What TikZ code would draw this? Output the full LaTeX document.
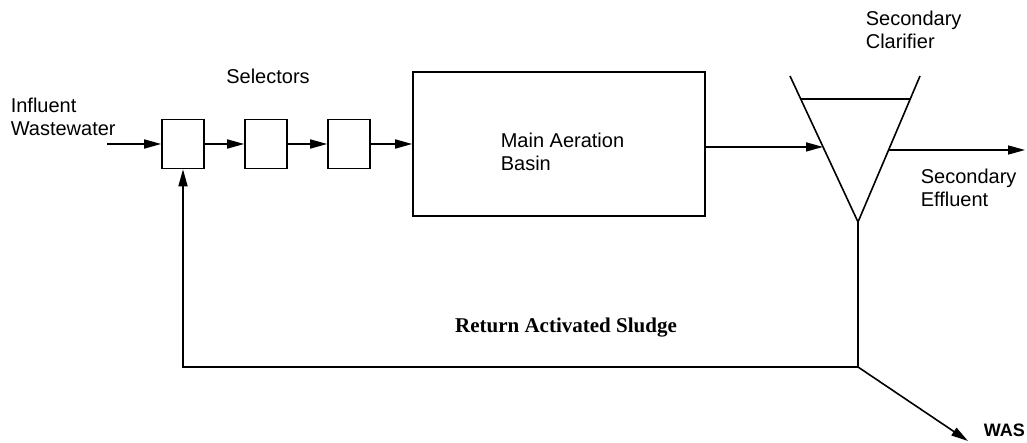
\documentclass[tikz,border=0pt]{standalone}
\usepackage{fontspec}
\setmainfont{Liberation Sans}
\newfontfamily\rasfont{Liberation Serif}
\usetikzlibrary{arrows.meta}

\begin{document}
\begin{tikzpicture}[x=1pt, y=-1pt, line width=1.6pt,
    flow/.style={-{Triangle[length=17pt, width=9pt]}},
    selector/.style={draw, minimum width=42pt, minimum height=49pt, inner sep=0pt},
    lbl/.style={font=\fontsize{20}{23}\selectfont, align=left, inner sep=0pt}]
    \useasboundingbox (0,0) rectangle (1027,443);

    % selectors and aeration basin
    \node[selector] (sel1) at (183,144) {};
    \node[selector] (sel2) at (266,144) {};
    \node[selector] (sel3) at (349,144) {};
    \node[draw, minimum width=292pt, minimum height=144pt, inner sep=0pt] (basin) at (559,144) {};
    \node[lbl, anchor=north west] (basintxt) at (500,132) {Main Aeration\\Basin};

    \node[lbl, anchor=north west] (influent) at (10,97) {Influent\\Wastewater};
    \node[lbl, anchor=north] (selectors) at (268,68) {Selectors};

    \coordinate (inflow) at (107,144);
    \draw[flow] (inflow) -- (sel1);
    \draw[flow] (sel1) -- (sel2);
    \draw[flow] (sel2) -- (sel3);
    \draw[flow] (sel3) -- (basin);

    % secondary clarifier
    \coordinate (cltop) at (790,76);
    \coordinate (crtop) at (920,76);
    \coordinate (apex) at (858,222);
    \draw (cltop) -- (apex) -- (crtop);
    \path (cltop) -- (apex) coordinate[pos=0.158] (wl) coordinate[pos=0.486] (cin);
    \path (crtop) -- (apex) coordinate[pos=0.158] (wr) coordinate[pos=0.507] (cout);
    \draw (wl) -- (wr);
    \node[lbl, anchor=north west] (clar) at (865,10) {Secondary\\Clarifier};

    \draw[flow] (basin.east |- cin) -- (cin);
    \coordinate (outflow) at (1025,150);
    \draw[flow] (cout) -- (outflow);
    \node[lbl, anchor=north west] (effluent) at (920,168) {Secondary\\Effluent};

    % return and waste sludge
    \coordinate (split) at (858,367);
    \draw (apex) -- (split);
    \draw[flow] (split) -| (sel1.south);
    \node[font=\rasfont\bfseries\fontsize{21}{25}\selectfont, anchor=north, inner sep=0pt] (ras) at (566,317) {Return Activated Sludge};

    \coordinate (wasend) at (968,441);
    \draw[flow] (split) -- (wasend);
    \node[lbl, font=\bfseries\fontsize{18}{22}\selectfont, anchor=north west] (was) at (983,423) {WAS};

\end{tikzpicture}
\end{document}
